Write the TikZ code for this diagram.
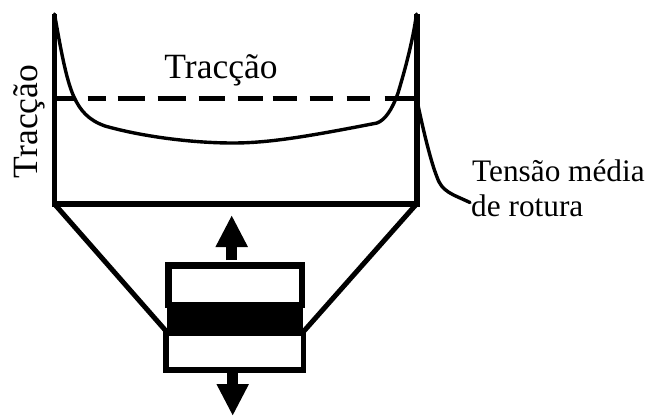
\documentclass[tikz,border=0pt]{standalone}
\usepackage{fontspec}
\setmainfont{Liberation Serif}
\usetikzlibrary{arrows.meta,calc}
\tikzset{
  frameline/.style={line width=5pt,line cap=butt,line join=miter},
  curveline/.style={line width=3.4pt,line cap=round,line join=round},
  slant/.style={line width=5pt,line cap=round},
  lbl/.style={inner sep=0pt,font=\fontsize{35.5}{36}\selectfont},
  lblsmall/.style={inner sep=0pt,font=\fontsize{31.3}{36}\selectfont,anchor=base west},
  layer/.style={draw=black,fill=white,inner sep=0pt,outer sep=0pt},
  force/.style={line width=10.5pt,-{Triangle[length=32pt,width=30pt]}}
}
\begin{document}
\begin{tikzpicture}[x=1pt,y=-1pt]
\useasboundingbox (0,0) rectangle (645,416);
\coordinate (tl) at (54.5,14);
\coordinate (tr) at (416.5,14);
\coordinate (bl) at (54.5,204);
\coordinate (br) at (416.5,204);
\coordinate (dl) at (54.5,98);
\coordinate (dr) at (416.5,98);
\coordinate (upTip) at (231.7,215);
\coordinate (downTip) at (232.7,416);
\coordinate (leadEnd) at (470,202.5);
\coordinate (slantL) at (166,331);
\coordinate (slantR) at (304,331);
% lower specimen
\node[layer,line width=6.5pt,minimum width=133.5pt,minimum height=39.75pt,anchor=north west] (top) at (168.25,265.25) {};
\node[layer,line width=5.5pt,minimum width=137.5pt,minimum height=36.5pt,anchor=north west] (bot) at (165.75,333.5) {};
\node[fill=black,inner sep=0pt,outer sep=0pt,minimum width=136pt,minimum height=33.5pt,anchor=north west] (core) at (167,302.3) {};
% frame
\draw[frameline,line width=5.5pt] (tl) -- (bl);
\draw[frameline,line width=6pt] (tr) -- (br);
\draw[frameline,line width=6.5pt] ($(bl)+(-2.5,0)$) -- ($(br)+(3,0)$);
\draw[frameline,dash pattern=on 20pt off 13pt on 18pt off 12pt on 27pt off 13pt on 28pt off 13pt on 26pt off 13pt on 25pt off 10pt on 24pt off 13pt on 23pt off 14pt on 23pt off 15pt on 40pt off 10pt] (dl) -- (dr);
% slanted connectors
\draw[slant] (bl) -- (slantL);
\draw[slant] (br) -- (slantR);
% stress curve
\draw[curveline] (tl) .. controls (60,45) and (66,80) .. (74,97)
  .. controls (80,110) and (88,120) .. (105,126)
  .. controls (140,136) and (190,143) .. (233,143)
  .. controls (270,143) and (310,136) .. (377,123)
  .. controls (385,120) and (392,110) .. (398,93)
  .. controls (405,70) and (413,40) .. (tr);
% lead to label
\draw[curveline] (dr) .. controls (421,120) and (430,160) .. (437,177)
  .. controls (442,192) and (452,194) .. (leadEnd);
% force arrows
\draw[force] (231.7,260) -- (upTip);
\draw[force] (232.7,372) -- (downTip);
% labels
\node[lbl] (t1) at (221,70) {Tracção};
\node[lbl,rotate=90] (t2) at (29,121.5) {Tracção};
\node[lblsmall] (t3) at (472,181) {Tensão média};
\node[lblsmall] (t4) at (471,216) {de rotura};
\end{tikzpicture}
\end{document}
